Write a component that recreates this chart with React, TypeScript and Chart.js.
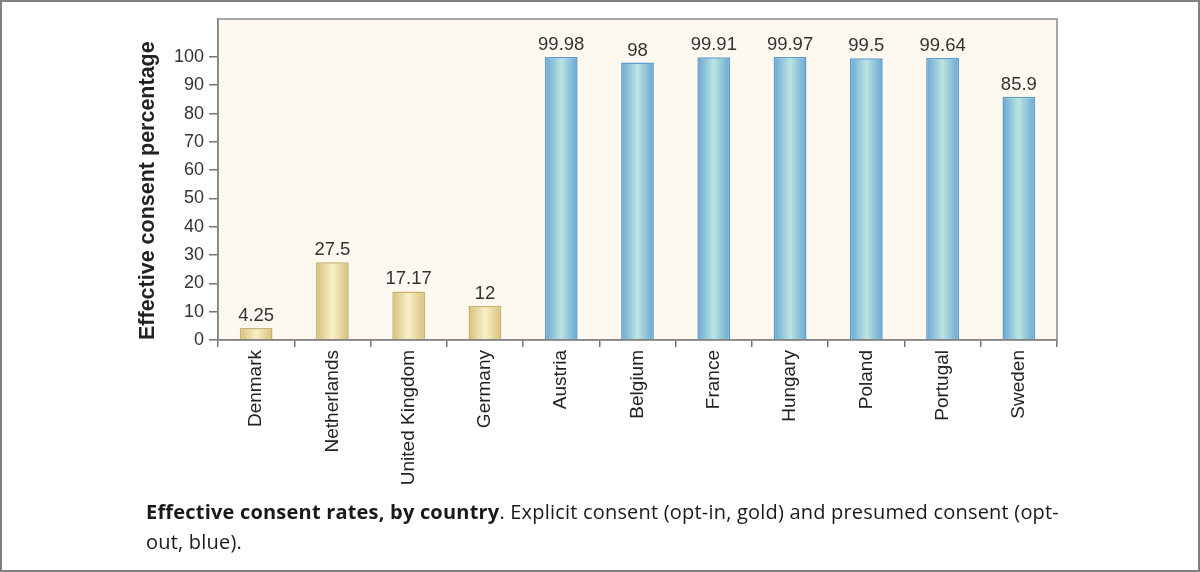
import React, { useEffect, useRef } from "react";
import { Chart, registerables } from "chart.js";

Chart.register(...registerables);

const countries = [
  "Denmark",
  "Netherlands",
  "United Kingdom",
  "Germany",
  "Austria",
  "Belgium",
  "France",
  "Hungary",
  "Poland",
  "Portugal",
  "Sweden",
];
const consentRates = [4.25, 27.5, 17.17, 12, 99.98, 98, 99.91, 99.97, 99.5, 99.64, 85.9];
const consentTypes = ["opt-in", "opt-in", "opt-in", "opt-in", "opt-out", "opt-out", "opt-out", "opt-out", "opt-out", "opt-out", "opt-out"];
const yTickValues = [0, 10, 20, 30, 40, 50, 60, 70, 80, 90, 100];
const yAxisTitle = "Effective consent percentage";

const BAR_PCT = 0.86;
const CAT_PCT = 0.5;

const palette: Record<string, { edge: string; mid: string; border: string }> = {
  "opt-in": { edge: "#d6c07a", mid: "#f8f1c8", border: "#c8b26c" },
  "opt-out": { edge: "#67a6d2", mid: "#bce4e2", border: "#5c9bcb" },
};

const FONT = "'Liberation Sans', Arial, Helvetica, sans-serif";

export default function App() {
  const canvasRef = useRef<HTMLCanvasElement | null>(null);

  useEffect(() => {
    const canvas = canvasRef.current;
    if (!canvas) return;

    const frameAndBg = {
      id: "frameAndBg",
      beforeDraw(chart: any) {
        const { ctx, chartArea } = chart;
        ctx.save();
        ctx.fillStyle = "#fdf9f0";
        ctx.fillRect(chartArea.left, chartArea.top, chartArea.right - chartArea.left, chartArea.bottom - chartArea.top);
        ctx.restore();
      },
      afterDraw(chart: any) {
        const { ctx, chartArea } = chart;
        ctx.save();
        ctx.strokeStyle = "#8a8a8a";
        ctx.lineWidth = 1.5;
        ctx.strokeRect(chartArea.left, chartArea.top, chartArea.right - chartArea.left, chartArea.bottom - chartArea.top);
        ctx.restore();
      },
    };

    const valueLabels = {
      id: "valueLabels",
      afterDatasetsDraw(chart: any) {
        const { ctx } = chart;
        const meta = chart.getDatasetMeta(0);
        ctx.save();
        ctx.font = "18.5px " + FONT;
        ctx.fillStyle = "#333333";
        ctx.textAlign = "center";
        ctx.textBaseline = "alphabetic";
        meta.data.forEach((bar: any, i: number) => {
          ctx.fillText(String(consentRates[i]), bar.x, bar.y - 7);
        });
        ctx.restore();
      },
    };

    const barFill = (ctx: any) => {
      const type = consentTypes[ctx.dataIndex] || "opt-in";
      const p = palette[type];
      const chart = ctx.chart;
      const xs = chart.scales && chart.scales.x;
      if (!xs || !xs.width) return p.mid;
      const cx = xs.getPixelForValue(ctx.dataIndex);
      const w = (xs.width / countries.length) * BAR_PCT * CAT_PCT;
      const g = chart.ctx.createLinearGradient(cx - w / 2, 0, cx + w / 2, 0);
      g.addColorStop(0, p.edge);
      g.addColorStop(0.5, p.mid);
      g.addColorStop(1, p.edge);
      return g;
    };

    const chart = new Chart(canvas, {
      type: "bar",
      data: {
        labels: countries,
        datasets: [
          {
            data: consentRates,
            backgroundColor: barFill as any,
            borderColor: ((ctx: any) => palette[consentTypes[ctx.dataIndex] || "opt-in"].border) as any,
            borderWidth: 1.5,
            barPercentage: BAR_PCT,
            categoryPercentage: CAT_PCT,
          },
        ],
      },
      options: {
        responsive: false,
        animation: false,
        devicePixelRatio: 1,
        layout: { padding: { left: 0, top: 19, right: 143, bottom: 0 } },
        plugins: {
          legend: { display: false },
          tooltip: { enabled: false },
        },
        scales: {
          x: {
            grid: {
              display: true,
              drawOnChartArea: false,
              drawTicks: true,
              tickLength: 7,
              color: "#777777",
              lineWidth: 1.5,
              offset: true,
            },
            border: { display: true, color: "#777777", width: 1.5 },
            ticks: {
              maxRotation: 90,
              minRotation: 90,
              autoSkip: false,
              padding: 3,
              color: "#222222",
              font: { family: FONT, size: 19 },
            },
            afterFit(scale: any) {
              scale.height = 232;
            },
          },
          y: {
            min: 0,
            max: 113.4,
            grid: {
              display: true,
              drawOnChartArea: false,
              drawTicks: true,
              tickLength: 9,
              color: "#777777",
              lineWidth: 1.5,
            },
            border: { display: true, color: "#777777", width: 1.5 },
            ticks: {
              stepSize: 10,
              padding: 5,
              color: "#333333",
              font: { family: FONT, size: 18 },
            },
            afterBuildTicks(scale: any) {
              scale.ticks = yTickValues.map((v) => ({ value: v }));
            },
            title: {
              display: true,
              text: yAxisTitle,
              align: "start",
              color: "#222222",
              padding: { top: 135, bottom: 0 },
              font: { family: FONT, size: 21.5, weight: "bold" },
            },
            afterFit(scale: any) {
              scale.width = 218;
            },
          },
        },
      },
      plugins: [frameAndBg, valueLabels],
    });

    return () => {
      chart.destroy();
    };
  }, []);

  return (
    <div
      style={{
        position: "fixed",
        left: 0,
        top: 0,
        width: 1200,
        height: 572,
        background: "#ffffff",
        overflow: "hidden",
      }}
    >
      <canvas ref={canvasRef} width={1200} height={572} style={{ position: "absolute", left: 0, top: 0, width: 1200, height: 572 }} />
      <div
        style={{
          position: "absolute",
          left: 0,
          top: 0,
          width: 1200,
          height: 572,
          boxSizing: "border-box",
          border: "2.5px solid #808080",
          pointerEvents: "none",
        }}
      />
      <div
        style={{
          position: "absolute",
          left: 146,
          top: 497,
          fontFamily: "'Open Sans', 'Noto Sans', sans-serif",
          fontSize: 20,
          letterSpacing: "0.2px",
          lineHeight: "30px",
          color: "#1a1a1a",
          whiteSpace: "nowrap",
        }}
      >
        <span style={{ fontWeight: 700 }}>Effective consent rates, by country</span>. Explicit consent (opt-in, gold) and presumed consent (opt-
        <br />
        out, blue).
      </div>
    </div>
  );
}
